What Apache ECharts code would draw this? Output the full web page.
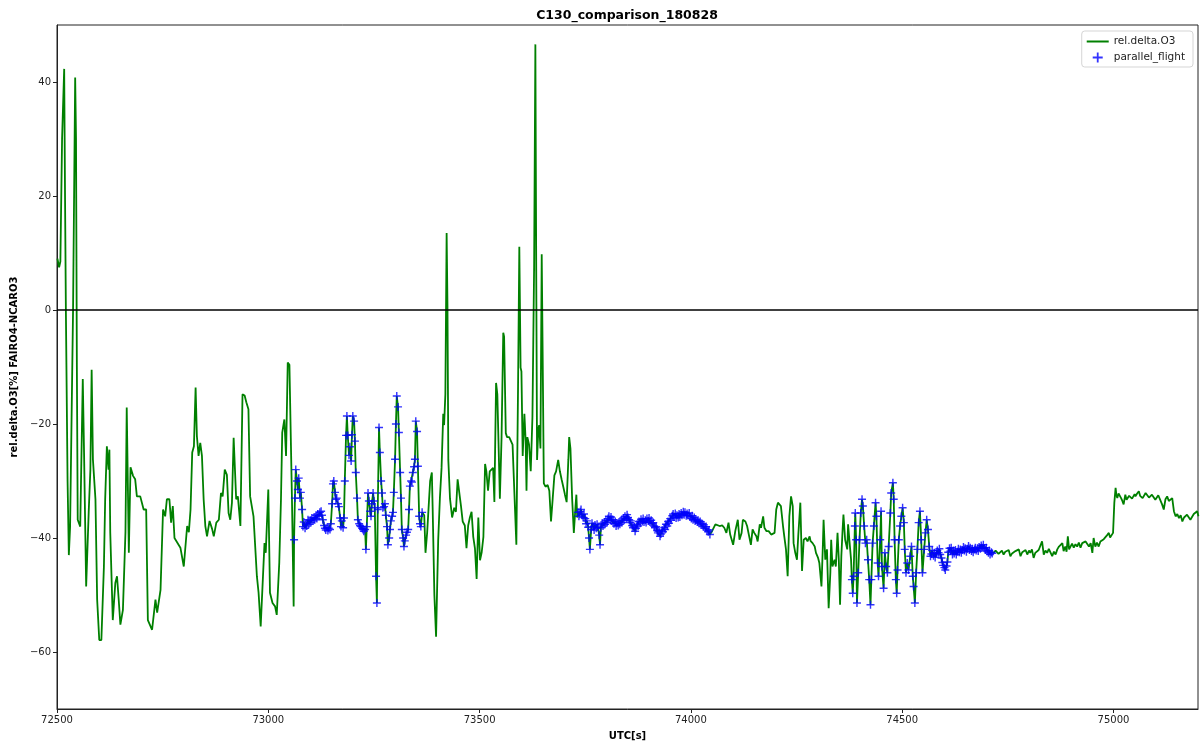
<!DOCTYPE html>
<html><head><meta charset="utf-8">
<script src="https://cdn.jsdelivr.net/npm/echarts@6/dist/echarts.min.js"></script>
<style>html,body{margin:0;padding:0;background:#fff}#c{width:1201px;height:747px}</style>
</head><body><div id="c"></div>
<script>
const chartTitle = 'C130_comparison_180828';
const xTicks = [72500, 73000, 73500, 74000, 74500, 75000];
const yTicks = [-60, -40, -20, 0, 20, 40];
const parallelWindows = [[73061, 73364], [73733, 74045], [74381, 74713]];

const segA = [[72501,9.0],[72505,7.5],[72508,8.5],[72512,30],[72517,42.3],[72519,20],[72521,0],[72525,-30],[72528,-43],[72531,-38],[72534,-38],[72538,0],[72543,40.8],[72545,30],[72547,-10],[72549,-36.8],[72555,-38],[72561,-12.1],[72564,-25],[72569,-48.5],[72575,-35.5],[72579,-28],[72582,-10.5],[72585,-26.2],[72591,-33.2],[72595,-50.8],[72600,-57.9],[72605,-57.9],[72611,-45],[72614,-33.2],[72618,-23.9],[72622,-28],[72624,-24.5],[72626,-39],[72632,-54.4],[72638,-47.9],[72642,-46.7],[72646,-50.8],[72650,-55.2],[72656,-52.6],[72662,-39],[72665,-17.1],[72670,-42.6],[72674,-27.6],[72680,-29.1],[72685,-29.7],[72689,-32.7],[72697,-32.7],[72705,-35],[72711,-35],[72715,-54.4],[72725,-56.1],[72733,-50.8],[72737,-53.1],[72745,-49.1],[72751,-35],[72756,-36.2],[72760,-33.2],[72766,-33.2],[72770,-37.3],[72774,-34.4],[72778,-40],[72792,-41.7],[72800,-45],[72808,-37.9],[72812,-39],[72816,-35],[72820,-25],[72824,-23.9],[72828,-13.6],[72831,-22.1],[72835,-25.6],[72839,-23.3],[72843,-25.6],[72847,-33.2],[72851,-37.9],[72855,-39.7],[72861,-37],[72867,-38.4],[72871,-39.7],[72877,-37.3],[72883,-36.8],[72888,-32.1],[72892,-32.7],[72897,-28],[72902,-28.9],[72906,-35.6],[72910,-36.8],[72914,-33.8],[72918,-22.4],[72924,-33.2],[72928,-32.7],[72934,-37.9],[72939,-14.8],[72944,-15],[72948,-16.2],[72953,-17.4],[72957,-32.7],[72961,-32.7],[72965,-36.2],[72973,-46.7],[72977,-49.6],[72982,-55.5],[72986,-55.7],[72991,-40.9],[72994,-42.6],[73000,-31.5],[73004,-49.6],[73010,-51.4],[73016,-52],[73020,-53.5],[73026,-44.3],[73030,-33.2],[73033,-21.5],[73038,-19.2],[73042,-25.6],[73046,-9.2],[73050,-9.6],[73056,-33.2],[73060,-52]];

const seg1 = [[73061,-40.3],[73063,-33],[73065,-28],[73068,-30],[73070,-31.5],[73072,-29.5],[73075,-33],[73077,-32],[73080,-35],[73082,-38],[73084,-37.2],[73087,-38.3],[73089,-37.5],[73091,-37.9],[73094,-36.8],[73096,-37.6],[73099,-36.9],[73101,-37.3],[73103,-36.5],[73106,-37.0],[73108,-36.4],[73110,-36.8],[73113,-36.0],[73115,-36.6],[73117,-35.8],[73120,-36.2],[73122,-35.5],[73125,-35.3],[73127,-36.0],[73129,-36.8],[73132,-37.8],[73134,-38.3],[73136,-38.6],[73139,-38.2],[73141,-38.7],[73143,-38.3],[73146,-38.5],[73148,-37.5],[73151,-34],[73153,-30.5],[73155,-30],[73158,-32],[73160,-33.2],[73162,-33],[73165,-34],[73167,-34.5],[73170,-36.5],[73172,-38],[73174,-37],[73177,-38.2],[73179,-36.5],[73181,-30],[73184,-22],[73186,-18.6],[73188,-22],[73191,-25.5],[73193,-24],[73196,-26.5],[73198,-21.9],[73200,-18.6],[73203,-19.5],[73205,-23],[73207,-28.5],[73210,-33],[73212,-36.8],[73215,-37.5],[73217,-37.8],[73219,-38],[73222,-38.3],[73224,-38.5],[73226,-38.8],[73229,-38.5],[73231,-42],[73233,-38],[73236,-32.1],[73238,-33.5],[73241,-35.3],[73243,-36.2],[73245,-34],[73248,-32.1],[73250,-33.5],[73252,-34.7],[73255,-46.7],[73257,-51.4],[73259,-35],[73262,-20.6],[73264,-25],[73267,-30],[73269,-32.1],[73271,-34.7],[73274,-34.5],[73276,-34],[73278,-36],[73281,-38],[73283,-41.2],[73286,-40],[73288,-38.5],[73290,-37],[73293,-36.2],[73295,-35.5],[73297,-32],[73300,-26.2],[73302,-20],[73304,-15.1],[73307,-17],[73309,-21.5],[73312,-28.5],[73314,-33],[73316,-38.5],[73319,-40],[73321,-41.5],[73323,-40.5],[73326,-39.5],[73328,-39],[73331,-38.5],[73333,-35],[73335,-30.9],[73338,-30],[73340,-30.2],[73342,-28.5],[73345,-27.5],[73347,-26.2],[73349,-19.5],[73352,-21.3],[73354,-27.4],[73357,-36.2],[73359,-37.5],[73361,-38],[73364,-35.5]];

const segC = [[73369,-36],[73372,-42.6],[73376,-39],[73380,-33.8],[73383,-30],[73387,-28.5],[73389,-35],[73393,-50],[73397,-57.3],[73402,-40.5],[73406,-33.1],[73410,-27.7],[73414,-18.2],[73416,-20.2],[73419,-14.8],[73422,13.5],[73424,0.7],[73426,-26.3],[73430,-33.1],[73435,-36.4],[73440,-34.7],[73444,-35.4],[73448,-29.7],[73452,-29.7],[73456,-34.4],[73460,-37.1],[73465,-37.8],[73469,-41.8],[73473,-37.8],[73477,-36.4],[73481,-35.4],[73485,-39.8],[73489,-41.8],[73493,-47.2],[73497,-36.4],[73501,-43.9],[73505,-42.5],[73509,-39.8],[73513,-27],[73516,-28.3],[73520,-31.7],[73524,-28.3],[73528,-28.3],[73532,-27.7],[73535,-33.7],[73539,-12.8],[73542,-14.8],[73548,-33.1],[73552,-22.3],[73556,-4],[73558,-4.7],[73562,-21.6],[73565,-22.3],[73570,-22.3],[73574,-22.6],[73578,-23.6],[73582,-23.6],[73587,-41.2],[73591,-13.5],[73594,11.1],[73597,-10.1],[73599,-10.8],[73602,-25.6],[73606,-18.2],[73609,-23],[73611,-31.7],[73613,-22.3],[73617,-23.6],[73621,-28.3],[73625,-18.9],[73627,-6],[73629,7.4],[73632,46.6],[73634,7.4],[73636,-26.3],[73639,-20.9],[73641,-20.2],[73644,-24.3],[73647,9.8],[73649,-6],[73652,-30.4],[73656,-31],[73661,-30.7],[73665,-31.7],[73669,-37.1],[73673,-33.1],[73677,-29],[73681,-28.3],[73686,-26.3],[73690,-28.3],[73694,-29.7],[73698,-31],[73702,-32.4],[73706,-33.7],[73710,-26.3],[73712,-22.3],[73715,-24.3],[73719,-33.1],[73723,-39.1],[73727,-34.4],[73729,-32.4],[73731,-36.4]];

const seg2 = [[73733,-35.5],[73735,-36.2],[73738,-35.4],[73740,-35.0],[73742,-35.9],[73745,-36.4],[73747,-35.8],[73750,-36.6],[73752,-37.5],[73754,-37.0],[73757,-38.1],[73759,-40.0],[73761,-42.0],[73764,-38.5],[73766,-37.4],[73769,-38.0],[73771,-38.6],[73773,-37.7],[73776,-38.3],[73778,-37.6],[73780,-38.1],[73783,-39.5],[73785,-41.2],[73787,-38.2],[73790,-37.4],[73792,-37.9],[73795,-37.2],[73797,-37.6],[73799,-36.9],[73802,-37.3],[73804,-36.6],[73806,-36.2],[73809,-36.8],[73811,-36.3],[73813,-37.0],[73816,-36.8],[73818,-37.5],[73821,-37.1],[73823,-37.9],[73825,-37.4],[73828,-37.8],[73830,-37.2],[73832,-37.6],[73835,-36.9],[73837,-37.3],[73840,-36.5],[73842,-36.9],[73844,-36.2],[73847,-36.6],[73849,-35.9],[73851,-36.4],[73854,-36.8],[73856,-37.3],[73858,-37.0],[73861,-37.8],[73863,-38.2],[73866,-38.0],[73868,-38.8],[73870,-38.3],[73873,-37.6],[73875,-37.9],[73877,-37.1],[73880,-37.4],[73882,-36.7],[73885,-37.1],[73887,-36.6],[73889,-37.2],[73892,-36.9],[73894,-37.3],[73896,-36.6],[73899,-37.0],[73901,-36.5],[73903,-37.2],[73906,-36.9],[73908,-37.5],[73911,-37.3],[73913,-37.9],[73915,-38.2],[73918,-38.0],[73920,-38.7],[73922,-39.1],[73925,-38.8],[73927,-39.7],[73929,-39.3],[73932,-38.6],[73934,-38.9],[73937,-38.2],[73939,-38.5],[73941,-37.6],[73944,-37.9],[73946,-37.1],[73948,-37.4],[73951,-36.6],[73953,-36.9],[73956,-36.1],[73958,-35.8],[73960,-36.3],[73963,-35.7],[73965,-36.5],[73967,-36.0],[73970,-36.4],[73972,-35.8],[73974,-36.3],[73977,-35.6],[73979,-36.0],[73982,-35.4],[73984,-35.9],[73986,-35.5],[73989,-36.1],[73991,-35.7],[73993,-36.0],[73996,-35.6],[73998,-36.3],[74001,-36.6],[74003,-36.1],[74005,-36.8],[74008,-36.4],[74010,-37.0],[74012,-36.7],[74015,-37.2],[74017,-36.9],[74019,-37.4],[74022,-37.1],[74024,-37.7],[74027,-37.5],[74029,-38.0],[74031,-37.7],[74034,-38.3],[74036,-38.0],[74038,-38.6],[74041,-38.9],[74043,-38.6],[74045,-39.4]];

const segE = [[74050,-38.8],[74058,-37.6],[74062,-37.3],[74068,-37.9],[74074,-37.8],[74079,-38.2],[74084,-39.1],[74089,-37.3],[74093,-39.4],[74100,-41.2],[74105,-38.8],[74111,-36.8],[74115,-40.3],[74120,-39.1],[74123,-36.8],[74129,-37.1],[74133,-37.9],[74137,-38.2],[74142,-41.2],[74146,-38.5],[74150,-39.1],[74155,-39.7],[74158,-40.6],[74163,-37.6],[74166,-38.2],[74171,-36.2],[74174,-38.2],[74179,-38.8],[74184,-38.8],[74190,-39.4],[74194,-39.7],[74198,-39.1],[74202,-35],[74206,-33.8],[74210,-33.5],[74213,-34.4],[74218,-37.9],[74221,-39.7],[74225,-42],[74229,-46.7],[74233,-36.2],[74237,-32.7],[74241,-34.4],[74243,-40.9],[74247,-42.6],[74251,-43.8],[74254,-39.7],[74259,-33.8],[74263,-45.8],[74267,-40.3],[74272,-40],[74276,-40.6],[74281,-39.7],[74283,-40.5],[74288,-40.9],[74293,-41.5],[74296,-42.6],[74301,-43.5],[74304,-44.4],[74309,-48.5],[74312,-42],[74314,-36.8],[74318,-43.8],[74322,-42],[74326,-52.3],[74330,-46.1],[74332,-40.3],[74335,-45],[74340,-43.8],[74343,-45],[74347,-39.1],[74350,-43.8],[74353,-51.7],[74356,-43.2],[74359,-38.5],[74361,-35.9],[74365,-40.3],[74370,-42],[74372,-37.6],[74375,-40.3],[74379,-43.8]];

const seg3 = [[74381,-47.3],[74383,-49.7],[74385,-46.7],[74388,-37.9],[74389,-35.6],[74391,-40.3],[74393,-51.4],[74396,-46.1],[74399,-40.3],[74402,-35.6],[74405,-33.2],[74407,-34.4],[74410,-37.9],[74413,-40.9],[74416,-40.3],[74419,-43.8],[74422,-47.3],[74425,-51.7],[74427,-47.3],[74430,-40.9],[74433,-37.9],[74437,-33.8],[74439,-36.2],[74442,-44.4],[74444,-46.7],[74448,-40.3],[74450,-35.3],[74452,-45],[74456,-48.8],[74459,-42.6],[74462,-45],[74465,-46.1],[74468,-41.5],[74472,-35.6],[74474,-32.1],[74478,-30.3],[74480,-33.2],[74482,-40.3],[74485,-47.3],[74487,-49.7],[74489,-45.6],[74492,-40.3],[74495,-37.9],[74498,-36.2],[74501,-34.7],[74504,-37.3],[74506,-42],[74509,-46.1],[74512,-44.4],[74515,-45.6],[74519,-43.2],[74522,-41.5],[74525,-46.7],[74527,-48.5],[74530,-51.4],[74533,-46.1],[74536,-42],[74539,-37.3],[74542,-35.3],[74545,-40.3],[74548,-46.1],[74552,-42],[74555,-39.1],[74558,-36.8],[74561,-38.5],[74564,-41.5],[74567,-43.2],[74569,-42.8],[74571,-42.2],[74574,-43.1],[74576,-42.6],[74578,-43.4],[74581,-42.7],[74583,-42.2],[74586,-42.6],[74588,-41.9],[74590,-42.9],[74593,-43.5],[74595,-44.3],[74597,-44.8],[74600,-45.2],[74602,-45.6],[74605,-44.9],[74607,-44.2],[74609,-42.5],[74612,-41.8],[74614,-42.3],[74616,-41.7],[74619,-42.9],[74621,-42.2],[74623,-42.7],[74626,-42.1],[74628,-42.9],[74631,-42.4],[74633,-41.9],[74635,-42.5],[74638,-42.0],[74640,-42.6],[74642,-42.1],[74645,-41.6],[74647,-42.2],[74649,-41.8],[74652,-42.4],[74654,-41.9],[74657,-41.4],[74659,-42.1],[74661,-41.7],[74664,-42.3],[74666,-41.9],[74668,-42.5],[74671,-42.0],[74673,-41.7],[74675,-42.2],[74678,-41.8],[74680,-42.3],[74682,-41.6],[74685,-41.9],[74687,-41.3],[74689,-41.7],[74692,-41.2],[74694,-41.8],[74697,-42.1],[74699,-41.7],[74701,-42.3],[74704,-42.6],[74706,-42.2],[74708,-42.9],[74711,-42.5],[74713,-42.7]];

const segG = [[74717,-42.6],[74721,-42.2],[74725,-42.0],[74728,-42.8],[74732,-42.6],[74736,-42.2],[74740,-42.9],[74744,-42.4],[74748,-42.6],[74752,-42.1],[74756,-43.2],[74760,-42.7],[74764,-42.9],[74768,-42.3],[74772,-42.6],[74776,-42.0],[74780,-43.2],[74784,-42.5],[74788,-42.6],[74792,-42.1],[74796,-42.9],[74800,-42.2],[74803,-42.6],[74807,-42.0],[74811,-43.5],[74815,-42.6],[74819,-42.9],[74823,-42.1],[74827,-42.3],[74831,-40.6],[74835,-42.9],[74839,-42.2],[74843,-42.6],[74847,-41.9],[74851,-41.7],[74855,-43.2],[74859,-42.4],[74863,-42.9],[74867,-42.0],[74871,-41.5],[74875,-41.7],[74879,-40.9],[74882,-42.3],[74886,-41.5],[74889,-42.4],[74892,-39.7],[74895,-42],[74898,-41.7],[74902,-41.0],[74906,-41.7],[74910,-41.1],[74914,-41.5],[74918,-40.8],[74922,-41.7],[74926,-40.9],[74930,-41.2],[74934,-40.6],[74938,-40.3],[74942,-41.5],[74946,-40.9],[74950,-42.6],[74953,-40],[74957,-41.5],[74961,-40.8],[74965,-41.5],[74969,-40.6],[74973,-40.9],[74977,-40.2],[74981,-40],[74985,-39.5],[74989,-39.1],[74992,-39.9],[74995,-39.7],[74999,-39.1],[75002,-33.8],[75005,-31.2],[75007,-32.5],[75009,-33],[75012,-32.2],[75015,-32.4],[75018,-33.0],[75021,-33.5],[75024,-34.1],[75028,-32.4],[75031,-33.3],[75034,-33],[75037,-32.6],[75040,-32.4],[75044,-33.1],[75047,-33],[75050,-32.3],[75052,-32.7],[75056,-32.2],[75060,-31.8],[75063,-32.6],[75066,-32.4],[75069,-33.0],[75072,-32.7],[75076,-32.1],[75080,-32.4],[75084,-32.9],[75088,-33],[75091,-32.4],[75095,-32.7],[75099,-33.3],[75103,-33.2],[75106,-32.5],[75110,-32.7],[75115,-34.1],[75119,-35],[75123,-33.2],[75127,-32.7],[75131,-33.5],[75135,-33.2],[75139,-33],[75143,-35.3],[75147,-36.2],[75151,-35.8],[75155,-36.5],[75159,-36.0],[75163,-37.1],[75167,-36.4],[75170,-36.5],[75174,-35.9],[75178,-36.2],[75182,-36.8],[75186,-36.5],[75190,-35.8],[75194,-35.9],[75198,-35.3],[75201,-36.2]];

const o3 = [].concat(segA, seg1, segC, seg2, segE, seg3, segG);
const parallel = o3.filter(p => parallelWindows.some(w => p[0] >= w[0] && p[0] <= w[1]));

const plus = 'path://M4.1,0H5.9V4.1H10V5.9H5.9V10H4.1V5.9H0V4.1H4.1Z';
const FF = 'DejaVu Sans';
const chart = echarts.init(document.getElementById('c'), null, {renderer: 'canvas'});
chart.setOption({
  animation: false,
  backgroundColor: '#fff',
  title: {text: chartTitle, left: 627, top: 9, textAlign: 'center', padding: 0,
    textStyle: {fontFamily: FF, fontSize: 12.5, fontWeight: 'bold', color: '#000'}},
  legend: {
    orient: 'vertical', right: 8, top: 31, padding: [5, 8, 4, 5], itemGap: 5,
    itemWidth: 22, itemHeight: 10, borderColor: '#d5d5d5', borderWidth: 1, borderRadius: 3,
    textStyle: {fontFamily: FF, fontSize: 10.5, color: '#222'},
    data: [{name: 'rel.delta.O3', icon: 'path://M0,4H22V6H0Z'}, {name: 'parallel_flight', icon: plus}]
  },
  grid: {left: 57, right: 3, top: 25, bottom: 38, show: true, borderColor: '#222', borderWidth: 1},
  xAxis: {
    type: 'value', min: 72500, max: 75200,
    name: 'UTC[s]', nameLocation: 'middle', nameGap: 22,
    nameTextStyle: {fontFamily: FF, fontSize: 10, fontWeight: 'bold', color: '#000'},
    axisLine: {show: true, onZero: false, lineStyle: {color: '#222'}},
    axisTick: {show: true, length: 4, lineStyle: {color: '#222'}, customValues: xTicks},
    axisLabel: {customValues: xTicks, fontFamily: FF, fontSize: 10, color: '#222', margin: 6,
      formatter: v => String(v)},
    splitLine: {show: false}
  },
  yAxis: {
    type: 'value', min: -70, max: 50,
    name: 'rel.delta.O3[%] FAIRO4-NCARO3', nameLocation: 'middle', nameGap: 31, nameRotate: 90,
    nameTextStyle: {fontFamily: FF, fontSize: 10, fontWeight: 'bold', color: '#000'},
    axisLine: {show: true, onZero: false, lineStyle: {color: '#222'}},
    axisTick: {show: true, length: 4, lineStyle: {color: '#222'}, customValues: yTicks},
    axisLabel: {customValues: yTicks, fontFamily: FF, fontSize: 10, color: '#222', margin: 6,
      formatter: v => (v < 0 ? '\u2212' + Math.abs(v) : String(v))},
    splitLine: {show: false}
  },
  series: [
    {name: 'rel.delta.O3', type: 'line', data: o3, symbol: 'none', showSymbol: false,
      lineStyle: {color: '#008000', width: 1.8}, itemStyle: {color: '#008000'}, z: 2,
      markLine: {silent: true, symbol: ['none', 'none'], label: {show: false},
        lineStyle: {color: '#000', width: 1.6, type: 'solid'}, data: [{yAxis: 0}]}},
    {name: 'parallel_flight', type: 'scatter', data: parallel, symbol: plus, symbolSize: 8,
      itemStyle: {color: '#0000ff'}, z: 3}
  ]
});
</script></body></html>
